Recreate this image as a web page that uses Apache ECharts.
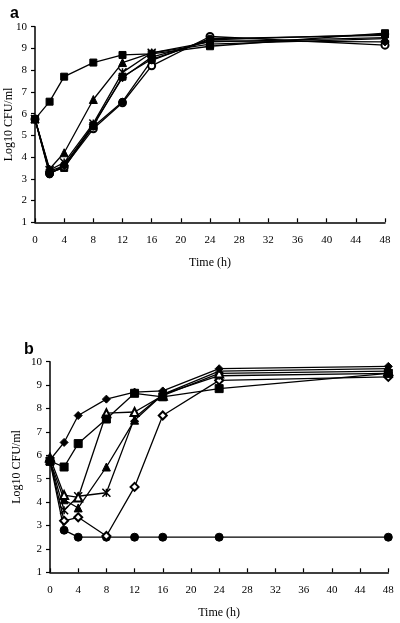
<!DOCTYPE html>
<html><head><meta charset="utf-8">
<script src="https://cdn.jsdelivr.net/npm/echarts@6/dist/echarts.min.js"></script>
<style>html,body{margin:0;padding:0;background:#fff}#c{width:400px;height:623px}</style>
</head><body><div id="c"></div>
<script>
var times = [0, 2, 4, 8, 12, 16, 24, 48];
var xTicks = [0, 4, 8, 12, 16, 20, 24, 28, 32, 36, 40, 44, 48];
var yTicks = [1, 2, 3, 4, 5, 6, 7, 8, 9, 10];

// Panel a
var aSquareTop   = [5.75, 6.55, 7.70, 8.35, 8.70, 8.75, 9.10, 9.70];
var aTriangle    = [5.75, 3.45, 4.20, 6.65, 8.35, 8.80, 9.20, 9.45];
var aStar        = [5.75, 3.40, 3.75, 5.55, 7.90, 8.80, 9.30, 9.50];
var aDiamond     = [5.75, 3.35, 3.60, 5.50, 7.65, 8.60, 9.35, 9.30];
var aOpenCircle  = [5.75, 3.25, 3.55, 5.30, 6.50, 8.20, 9.55, 9.15];
var aCircle      = [5.75, 3.20, 3.65, 5.40, 6.55, 8.45, 9.45, 9.60];
var aSquareLow   = [5.75, 3.30, 3.50, 5.45, 7.70, 8.50, 9.40, 9.65];

// Panel b
var bDiamond     = [5.80, 6.55, 7.70, 8.40, 8.70, 8.75, 9.70, 9.80];
var bSquare      = [5.75, 5.50, 6.50, 7.55, 8.65, 8.50, 8.85, 9.50];
var bOpenTri     = [5.90, 4.30, 4.20, 7.80, 7.85, 8.55, 9.50, 9.60];
var bTriangle    = [5.75, 4.10, 3.75, 5.50, 7.50, 8.60, 9.60, 9.70];
var bStar        = [5.75, 3.65, 4.25, 4.40, 7.60, 8.60, 9.40, 9.50];
var bOpenDiamond = [5.75, 3.20, 3.35, 2.55, 4.65, 7.70, 9.20, 9.35];
var bCircle      = [5.75, 2.80, 2.50, 2.50, 2.50, 2.50, 2.50, 2.50];

var starPath = 'path://M0,0L10,10M10,0L0,10M5,0L5,10';
function pts(v){ return times.map(function(t,i){return [t, v[i]];}); }
function ser(v, sym, idx, size){
  var s = {type:'line', data:pts(v), xAxisIndex:idx, yAxisIndex:idx,
    symbol:sym, symbolSize:size||7, showAllSymbol:true,
    lineStyle:{color:'#000', width:1.3},
    itemStyle:{color:'#000', borderColor:'#000', borderWidth:1},
    emphasis:{disabled:true}, animation:false, z:3};
  if(sym===starPath){ s.itemStyle={color:'none', borderColor:'#000', borderWidth:1.5}; s.symbolSize=8; }
  return s;
}
var font = 'Liberation Serif';
function xAx(idx){
  return {type:'value', gridIndex:idx, min:0, max:48, interval:4,
    name:'Time (h)', nameLocation:'middle', nameGap:35, nameMoveOverlap:false,
    nameTextStyle:{fontFamily:font, fontSize:12, color:'#000'},
    axisLine:{lineStyle:{color:'#000', width:1.5}},
    axisTick:{inside:true, length:4, lineStyle:{color:'#000', width:1.2}},
    axisLabel:{fontFamily:font, fontSize:11, color:'#000', margin:12},
    splitLine:{show:false}};
}
function yAx(idx, gap){
  return {type:'value', gridIndex:idx, min:1, max:10, interval:1,
    name:'Log10 CFU/ml', nameLocation:'middle', nameGap:gap, nameRotate:90, nameMoveOverlap:false,
    nameTextStyle:{fontFamily:font, fontSize:12, color:'#000'},
    axisLine:{show:true, lineStyle:{color:'#000', width:1.5}},
    axisTick:{show:true, length:4, lineStyle:{color:'#000', width:1.2}},
    axisLabel:{fontFamily:font, fontSize:11, color:'#000', margin:8},
    splitLine:{show:false}};
}
var chart = echarts.init(document.getElementById('c'), null, {renderer:'canvas'});
chart.setOption({
  backgroundColor:'#fff',
  animation:false,
  title:[
    {text:'a', left:5, top:1, textStyle:{fontFamily:'Liberation Sans', fontWeight:'bold', fontSize:16, color:'#000'}},
    {text:'b', left:19, top:337, textStyle:{fontFamily:'Liberation Sans', fontWeight:'bold', fontSize:16, color:'#000'}}
  ],
  grid:[
    {left:35, top:26.7, width:350, height:195.6, containLabel:false, outerBoundsMode:'none'},
    {left:50, top:361.7, width:338.3, height:210.6, containLabel:false, outerBoundsMode:'none'}
  ],
  xAxis:[xAx(0), xAx(1)],
  yAxis:[yAx(0, 20), yAx(1, 27)],
  series:[
    ser(aSquareLow, 'rect', 0),
    ser(aOpenCircle, 'emptyCircle', 0),
    ser(aCircle, 'circle', 0),
    ser(aDiamond, 'diamond', 0, 8),
    ser(aStar, starPath, 0),
    ser(aTriangle, 'triangle', 0, 8),
    ser(aSquareTop, 'rect', 0),
    ser(bCircle, 'circle', 1, 8),
    ser(bOpenDiamond, 'emptyDiamond', 1, 8),
    ser(bStar, starPath, 1),
    ser(bTriangle, 'triangle', 1, 8),
    ser(bOpenTri, 'emptyTriangle', 1, 8),
    ser(bSquare, 'rect', 1, 8),
    ser(bDiamond, 'diamond', 1, 8)
  ]
});
</script></body></html>
